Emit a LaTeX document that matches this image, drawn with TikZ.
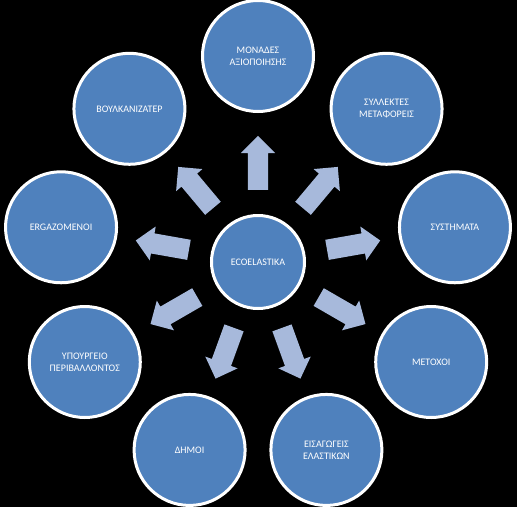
\documentclass[tikz,border=0pt]{standalone}
\usepackage{fontspec}
\setmainfont{Carlito}
\usepackage{tikz}
\usetikzlibrary{shapes.arrows}

\definecolor{circblue}{RGB}{79,129,189}
\definecolor{arrowblue}{RGB}{167,185,219}

\begin{document}
\begin{tikzpicture}[x=1pt,y=1pt,
    hub/.style={circle,draw=white,line width=3pt,fill=circblue,text=white,
      minimum size=93pt,inner sep=0pt,align=center,
      font=\fontsize{10}{12}\selectfont},
    member/.style={hub,minimum size=111pt},
    push/.style={single arrow,fill=arrowblue,draw=none,inner xsep=0pt,
      inner ysep=10pt,minimum height=54pt,single arrow head extend=7pt}]
       \useasboundingbox (-258,-245) rectangle (259,262);
       \fill[black] (-258,-245) rectangle (259,262);

       \node[hub] (E) at (0,0) {ECOELASTIKA};

       \node[member] (M) at (90:206) {ΜΟΝΑΔΕΣ\\ΑΞΙΟΠΟΙΗΣΗΣ};
       \node[member] (S) at (50:200) {ΣΥΛΛΕΚΤΕΣ\\ΜΕΤΑΦΟΡΕΙΣ};
       \node[member] (Y) at (10:200) {ΣΥΣΤΗΜΑΤΑ};
       \node[member] (X) at (-30:200) {ΜΕΤΟΧΟΙ};
       \node[member] (I) at (-70:200) {ΕΙΣΑΓΩΓΕΙΣ\\ΕΛΑΣΤΙΚΩΝ};
       \node[member] (D) at (-110:200) {ΔΗΜΟΙ};
       \node[member] (P) at (-150:200) {ΥΠΟΥΡΓΕΙΟ\\ΠΕΡΙΒΑΛΛΟΝΤΟΣ};
       \node[member] (G) at (170:200) {ERGAZOMENOI};
       \node[member] (B) at (130:200) {ΒΟΥΛΚΑΝΙΖΑΤΕΡ};

       \node[push,rotate=90] (aM) at (90:94) {};
       \node[push,rotate=50] (aS) at (50:92) {};
       \node[push,rotate=10] (aY) at (10:92) {};
       \node[push,rotate=-30] (aX) at (-30:92) {};
       \node[push,rotate=-70] (aI) at (-70:92) {};
       \node[push,rotate=-110] (aD) at (-110:92) {};
       \node[push,rotate=-150] (aP) at (-150:92) {};
       \node[push,rotate=170] (aG) at (170:92) {};
       \node[push,rotate=130] (aB) at (130:92) {};
    \end{tikzpicture}
\end{document}
